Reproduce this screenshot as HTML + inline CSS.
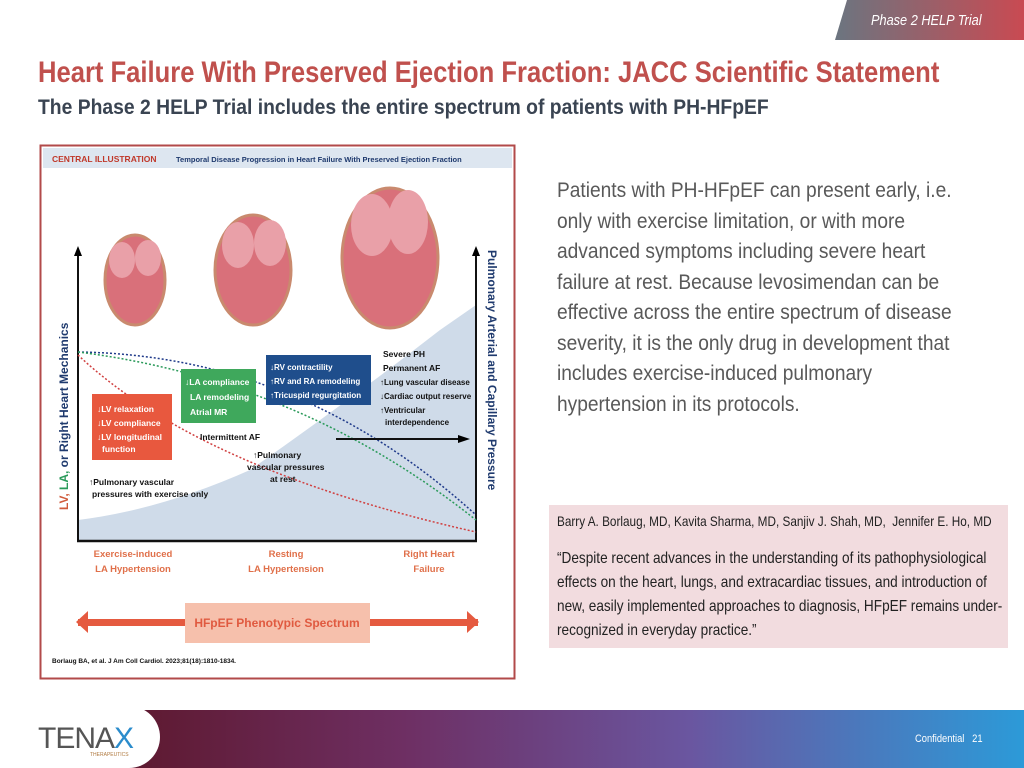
<!DOCTYPE html>
<html><head><meta charset="utf-8"><style>
body{margin:0;width:1024px;height:768px;position:relative;overflow:hidden;background:#fff;font-family:"Liberation Sans",sans-serif}
.a{position:absolute;white-space:nowrap}
.t1{left:38px;top:56px;font-size:30px;font-weight:bold;color:#c0504d;transform:scaleX(.853);transform-origin:0 0}
.t2{left:38px;top:96px;font-size:21px;font-weight:bold;color:#3a4452;transform:scaleX(.92);transform-origin:0 0}
.tab{left:835px;top:0;width:189px;height:40px;background:linear-gradient(90deg,#6b7580,#c94a52);clip-path:polygon(12px 0,100% 0,100% 100%,0 100%)}
.tabt{left:871px;top:12px;font-size:15px;font-style:italic;color:#fff;transform:scaleX(.85);transform-origin:0 0}
.body{left:557px;top:176px;font-size:21px;line-height:30.5px;color:#595959;transform:scaleX(.912);transform-origin:0 0}
.q{left:549px;top:505px;width:459px;height:143px;background:#f2dcdf}
.foot{left:70px;top:710px;width:954px;height:58px;background:linear-gradient(90deg,#5a1424,#6e2f63 35%,#6a56a0 65%,#2c9ad8)}
.logo{left:0;top:706px;width:160px;height:62px;background:#fff;border-radius:0 50px 50px 0}
</style></head><body>
<div class="a tab"></div><div class="a tabt">Phase 2 HELP Trial</div>
<div class="a t1">Heart Failure With Preserved Ejection Fraction: JACC Scientific Statement</div>
<div class="a t2">The Phase 2 HELP Trial includes the entire spectrum of patients with PH-HFpEF</div>
<div class="a body">Patients with PH-HFpEF can present early, i.e.<br>only with exercise limitation, or with more<br>advanced symptoms including severe heart<br>failure at rest. Because levosimendan can be<br>effective across the entire spectrum of disease<br>severity, it is the only drug in development that<br>includes exercise-induced pulmonary<br>hypertension in its protocols.</div>
<div class="a q"></div>
<div class="a" style="left:557px;top:513px;font-size:14px;color:#222;transform:scaleX(.84);transform-origin:0 0">Barry A. Borlaug, MD, Kavita Sharma, MD, Sanjiv J. Shah, MD,&nbsp; Jennifer E. Ho, MD</div>
<div class="a" style="left:557px;top:547px;font-size:16px;line-height:24px;color:#222;transform:scaleX(.85);transform-origin:0 0">“Despite recent advances in the understanding of its pathophysiological<br>effects on the heart, lungs, and extracardiac tissues, and introduction of<br>new, easily implemented approaches to diagnosis, HFpEF remains under-<br>recognized in everyday practice.”</div>
<svg class="a" style="left:0;top:0" width="1024" height="768" font-family="Liberation Sans,sans-serif">
<rect x="40.5" y="145.5" width="474" height="533" fill="#fff" stroke="#b24a4a" stroke-width="2"/>
<rect x="43" y="148" width="469" height="20" fill="#dde6f0"/>
<text x="52" y="162" font-size="8.5" font-weight="bold" fill="#c0392b">CENTRAL ILLUSTRATION</text>
<text x="176" y="162" font-size="7.5" font-weight="bold" fill="#1f3a6e">Temporal Disease Progression in Heart Failure With Preserved Ejection Fraction</text>
<path d="M78 520 Q160 510 250 470 Q350 400 440 330 L476 305 L476 541 L78 541Z" fill="#cfdbe9"/>
<g fill="#d9707a" stroke="#c98a6e" stroke-width="3">
<ellipse cx="135" cy="280" rx="30" ry="45"/><ellipse cx="253" cy="270" rx="38" ry="55"/><ellipse cx="390" cy="258" rx="48" ry="70"/></g>
<g fill="#e9a0a8"><ellipse cx="122" cy="260" rx="13" ry="18"/><ellipse cx="148" cy="258" rx="13" ry="18"/><ellipse cx="238" cy="245" rx="16" ry="23"/><ellipse cx="270" cy="243" rx="16" ry="23"/><ellipse cx="372" cy="225" rx="21" ry="31"/><ellipse cx="408" cy="222" rx="20" ry="32"/></g>
<line x1="78" y1="541" x2="78" y2="252" stroke="#111" stroke-width="2"/><path d="M74 256 L78 246 L82 256Z"/>
<line x1="476" y1="541" x2="476" y2="252" stroke="#111" stroke-width="2"/><path d="M472 256 L476 246 L480 256Z"/>
<line x1="77" y1="541" x2="477" y2="541" stroke="#111" stroke-width="2.5"/>
<path d="M78 352 Q300 355 476 515" fill="none" stroke="#1f3a8a" stroke-width="1.5" stroke-dasharray="2 2"/>
<path d="M78 352 Q300 380 476 520" fill="none" stroke="#2a9a5a" stroke-width="1.5" stroke-dasharray="2 2"/>
<path d="M78 355 Q200 470 476 532" fill="none" stroke="#d04040" stroke-width="1.5" stroke-dasharray="2 2"/>
<text transform="translate(68,510) rotate(-90)" font-size="12" font-weight="bold" fill="#1f3a6e"><tspan fill="#d05a3a">LV, </tspan><tspan fill="#2a9a5a">LA, </tspan>or Right Heart Mechanics</text>
<text transform="translate(488,250) rotate(90)" font-size="12" font-weight="bold" fill="#1f3a6e">Pulmonary Arterial and Capillary Pressure</text>
<rect x="92" y="394" width="80" height="66" fill="#e8583e"/>
<text font-size="8.5" font-weight="bold" fill="#fff"><tspan x="97" y="412">↓LV relaxation</tspan><tspan x="97" y="426">↓LV compliance</tspan><tspan x="97" y="440">↓LV longitudinal</tspan><tspan x="102" y="452">function</tspan></text>
<rect x="181" y="369" width="75" height="54" fill="#3fa85c"/>
<text font-size="8.5" font-weight="bold" fill="#fff"><tspan x="185" y="385">↓LA compliance</tspan><tspan x="190" y="400">LA remodeling</tspan><tspan x="190" y="415">Atrial MR</tspan></text>
<rect x="266" y="355" width="105" height="50" fill="#1f4e8c"/>
<text font-size="8" font-weight="bold" fill="#fff"><tspan x="270" y="370">↓RV contractility</tspan><tspan x="270" y="384">↑RV and RA remodeling</tspan><tspan x="270" y="398">↑Tricuspid regurgitation</tspan></text>
<text font-size="8.5" font-weight="bold" fill="#111"><tspan x="383" y="357">Severe PH</tspan><tspan x="383" y="371">Permanent AF</tspan></text>
<text font-size="8" font-weight="bold" fill="#111"><tspan x="380" y="385">↑Lung vascular disease</tspan><tspan x="380" y="399">↓Cardiac output reserve</tspan><tspan x="380" y="413">↑Ventricular</tspan><tspan x="385" y="425">interdependence</tspan></text>
<text font-size="8.5" font-weight="bold" fill="#111"><tspan x="200" y="440">Intermittent AF</tspan><tspan x="253" y="458">↑Pulmonary</tspan><tspan x="247" y="470">vascular pressures</tspan><tspan x="270" y="482">at rest</tspan><tspan x="89" y="485">↑Pulmonary vascular</tspan><tspan x="92" y="497">pressures with exercise only</tspan></text>
<line x1="336" y1="439" x2="463" y2="439" stroke="#111" stroke-width="2"/><path d="M458 435 L470 439 L458 443Z"/>
<text font-size="9.5" font-weight="bold" fill="#e0704a" text-anchor="middle"><tspan x="133" y="557">Exercise-induced</tspan><tspan x="133" y="572">LA Hypertension</tspan><tspan x="286" y="557">Resting</tspan><tspan x="286" y="572">LA Hypertension</tspan><tspan x="429" y="557">Right Heart</tspan><tspan x="429" y="572">Failure</tspan></text>
<rect x="78" y="619" width="400" height="7" fill="#e55a40"/><path d="M88 611 L76 622 L88 633Z M467 611 L479 622 L467 633Z" fill="#e55a40"/>
<rect x="185" y="603" width="185" height="40" fill="#f6c0ac"/>
<text x="277" y="627" font-size="12" font-weight="bold" fill="#e05a40" text-anchor="middle">HFpEF Phenotypic Spectrum</text>
<text x="52" y="663" font-size="6.5" font-weight="bold" fill="#111">Borlaug BA, et al. J Am Coll Cardiol. 2023;81(18):1810-1834.</text>
</svg>
<div class="a foot"></div><div class="a logo"></div>
<div class="a" style="left:38px;top:722px;font-size:30px;color:#555;letter-spacing:-1px">TENA<span style="color:#2b8ccc">X</span></div>
<div class="a" style="left:90px;top:752px;font-size:5px;color:#b07a40">THERAPEUTICS</div>
<div class="a" style="left:915px;top:733px;font-size:11px;color:#fff;transform:scaleX(.85);transform-origin:0 0">Confidential&nbsp;&nbsp; 21</div>
</body></html>
